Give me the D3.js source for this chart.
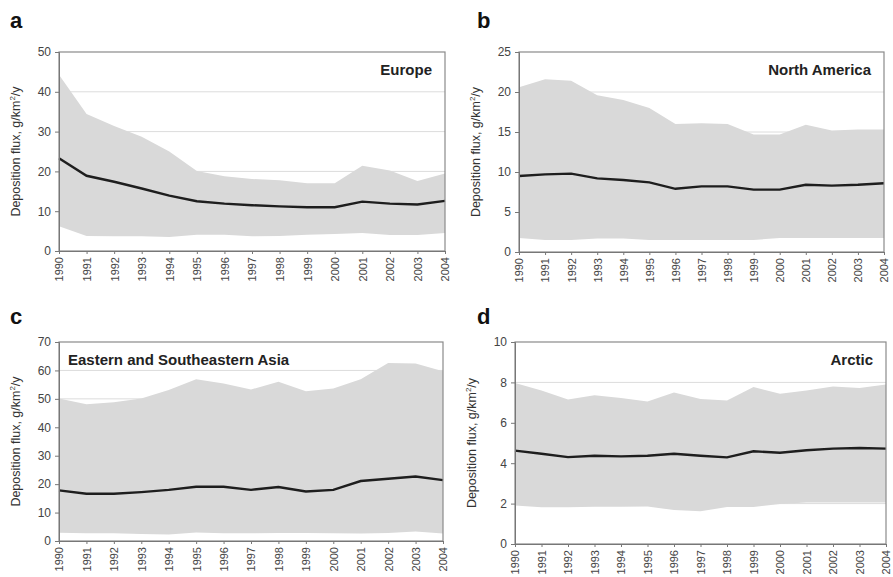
<!DOCTYPE html>
<html>
<head>
<meta charset="utf-8">
<script src="https://cdn.jsdelivr.net/npm/d3@7"></script>
<style>
  body { margin: 0; background: #fff; }
  svg { font-family: "Liberation Sans", Arial, sans-serif; }
</style>
</head>
<body>
<div id="chart"></div>
<script>
var years = [1990, 1991, 1992, 1993, 1994, 1995, 1996, 1997, 1998, 1999, 2000, 2001, 2002, 2003, 2004];

// Europe
var europeUpper = [44.3, 34.4, 31.4, 28.7, 25.0, 20.1, 18.8, 18.1, 17.8, 17.0, 17.0, 21.4, 20.2, 17.6, 19.5];
var europeMean  = [23.3, 18.9, 17.4, 15.7, 13.9, 12.5, 11.9, 11.5, 11.2, 11.0, 11.0, 12.4, 11.9, 11.7, 12.6];
var europeLower = [6.2, 3.8, 3.7, 3.7, 3.5, 4.1, 4.1, 3.7, 3.8, 4.1, 4.3, 4.5, 4.0, 4.0, 4.5];

// North America
var naUpper = [20.6, 21.6, 21.4, 19.6, 19.0, 18.0, 16.0, 16.1, 16.0, 14.7, 14.7, 15.9, 15.2, 15.3, 15.3];
var naMean  = [9.5, 9.7, 9.8, 9.2, 9.0, 8.7, 7.9, 8.2, 8.2, 7.8, 7.8, 8.4, 8.3, 8.4, 8.6];
var naLower = [1.75, 1.5, 1.5, 1.7, 1.7, 1.5, 1.5, 1.5, 1.5, 1.5, 1.75, 1.75, 1.75, 1.75, 1.75];

// Eastern and Southeastern Asia
var asiaUpper = [50.1, 48.1, 48.8, 50.1, 53.1, 56.9, 55.4, 53.3, 56.0, 52.7, 53.6, 56.9, 62.6, 62.4, 59.7];
var asiaMean  = [17.8, 16.6, 16.6, 17.2, 18.0, 19.1, 19.1, 18.0, 19.0, 17.4, 18.0, 21.1, 21.9, 22.7, 21.4];
var asiaLower = [2.9, 2.7, 2.7, 2.5, 2.3, 3.0, 2.7, 2.7, 2.8, 2.8, 2.7, 2.6, 2.8, 3.3, 2.6];

// Arctic
var arcticUpper = [7.97, 7.6, 7.15, 7.36, 7.23, 7.06, 7.5, 7.18, 7.1, 7.77, 7.44, 7.6, 7.8, 7.72, 7.89];
var arcticMean  = [4.62, 4.47, 4.3, 4.37, 4.34, 4.37, 4.47, 4.37, 4.29, 4.59, 4.52, 4.64, 4.72, 4.75, 4.72];
var arcticLower = [1.9, 1.82, 1.82, 1.85, 1.85, 1.86, 1.68, 1.62, 1.83, 1.83, 1.98, 2.05, 2.05, 2.05, 2.05];

var panels = [
    { letter: "a", name: "Europe", yMax: 50, yStep: 10, upper: europeUpper, mean: europeMean, lower: europeLower,
      box: {x0: 59, x1: 445, y0: 52, y1: 251}, letterPos: [10, 28], nameAlign: "end" },
    { letter: "b", name: "North America", yMax: 25, yStep: 5, upper: naUpper, mean: naMean, lower: naLower,
      box: {x0: 519, x1: 884, y0: 52, y1: 252}, letterPos: [477, 28], nameAlign: "end" },
    { letter: "c", name: "Eastern and Southeastern Asia", yMax: 70, yStep: 10, upper: asiaUpper, mean: asiaMean, lower: asiaLower,
      box: {x0: 59, x1: 443, y0: 342, y1: 541}, letterPos: [10, 324], nameAlign: "start" },
    { letter: "d", name: "Arctic", yMax: 10, yStep: 2, upper: arcticUpper, mean: arcticMean, lower: arcticLower,
      box: {x0: 515, x1: 886, y0: 342, y1: 544}, letterPos: [477, 324], nameAlign: "end" }
];

var svg = d3.select("#chart")
    .append("svg")
    .attr("width", 893)
    .attr("height", 577);

panels.forEach(function(p) {
    var b = p.box;
    var x = d3.scalePoint().domain(years).range([b.x0, b.x1]);
    var y = d3.scaleLinear().domain([0, p.yMax]).range([b.y1, b.y0]);
    var ticks = d3.range(0, p.yMax + p.yStep / 2, p.yStep);

    var g = svg.append("g");

    // gridlines
    g.selectAll(".grid")
        .data(ticks.filter(t => t > 0 && t < p.yMax))
        .enter().append("line")
        .attr("x1", b.x0).attr("x2", b.x1)
        .attr("y1", d => y(d)).attr("y2", d => y(d))
        .attr("stroke", "#dcdcdc")
        .attr("stroke-width", 1);

    var rows = years.map((yr, i) => ({year: yr, lo: p.lower[i], hi: p.upper[i], mean: p.mean[i]}));

    var area = d3.area()
        .x(d => x(d.year))
        .y0(d => y(d.lo))
        .y1(d => y(d.hi));

    g.append("path")
        .datum(rows)
        .attr("fill", "#d9d9d9")
        .attr("d", area);

    var line = d3.line()
        .x(d => x(d.year))
        .y(d => y(d.mean));

    g.append("path")
        .datum(rows)
        .attr("fill", "none")
        .attr("stroke", "#1e1e1e")
        .attr("stroke-width", 2.4)
        .attr("d", line);

    // frame
    g.append("rect")
        .attr("x", b.x0).attr("y", b.y0)
        .attr("width", b.x1 - b.x0).attr("height", b.y1 - b.y0)
        .attr("fill", "none")
        .attr("stroke", "#8a8a8a")
        .attr("stroke-width", 1.2);

    // y axis
    var yAxis = g.append("g")
        .attr("transform", "translate(" + b.x0 + ",0)")
        .call(d3.axisLeft(y).tickValues(ticks).tickSize(4).tickPadding(4));
    yAxis.selectAll("path, line").attr("stroke", "#777");
    yAxis.selectAll("text").attr("fill", "#444").style("font-size", "12px").style("font-family", "Liberation Sans, Arial, sans-serif");

    // x axis
    var xAxis = g.append("g")
        .attr("transform", "translate(0," + b.y1 + ")")
        .call(d3.axisBottom(x).tickSize(3).tickSizeOuter(0).tickPadding(3));
    xAxis.selectAll("path, line").attr("stroke", "#777");
    xAxis.selectAll("text")
        .attr("fill", "#444")
        .style("font-size", "11px")
        .style("font-family", "Liberation Sans, Arial, sans-serif")
        .attr("transform", "rotate(-90)")
        .attr("text-anchor", "end")
        .attr("x", -6)
        .attr("y", 0)
        .attr("dy", "0.35em");

    // y title
    var ty = g.append("text")
        .attr("transform", "translate(" + (b.x0 - 39) + "," + ((b.y0 + b.y1) / 2) + ") rotate(-90)")
        .attr("text-anchor", "middle")
        .attr("fill", "#333")
        .style("font-size", "12.5px");
    ty.append("tspan").text("Deposition flux, g/km");
    ty.append("tspan").attr("dy", "-5").style("font-size", "8px").text("2");
    ty.append("tspan").attr("dy", "5").text("/y");

    // region name
    g.append("text")
        .attr("x", p.nameAlign === "end" ? b.x1 - 13 : b.x0 + 9)
        .attr("y", b.y0 + 23)
        .attr("text-anchor", p.nameAlign)
        .attr("fill", "#222")
        .style("font-size", "15px")
        .style("font-weight", "bold")
        .text(p.name);

    // panel letter
    svg.append("text")
        .attr("x", p.letterPos[0])
        .attr("y", p.letterPos[1])
        .attr("fill", "#111")
        .style("font-size", "22px")
        .style("font-weight", "bold")
        .text(p.letter);
});
</script>
</body>
</html>
